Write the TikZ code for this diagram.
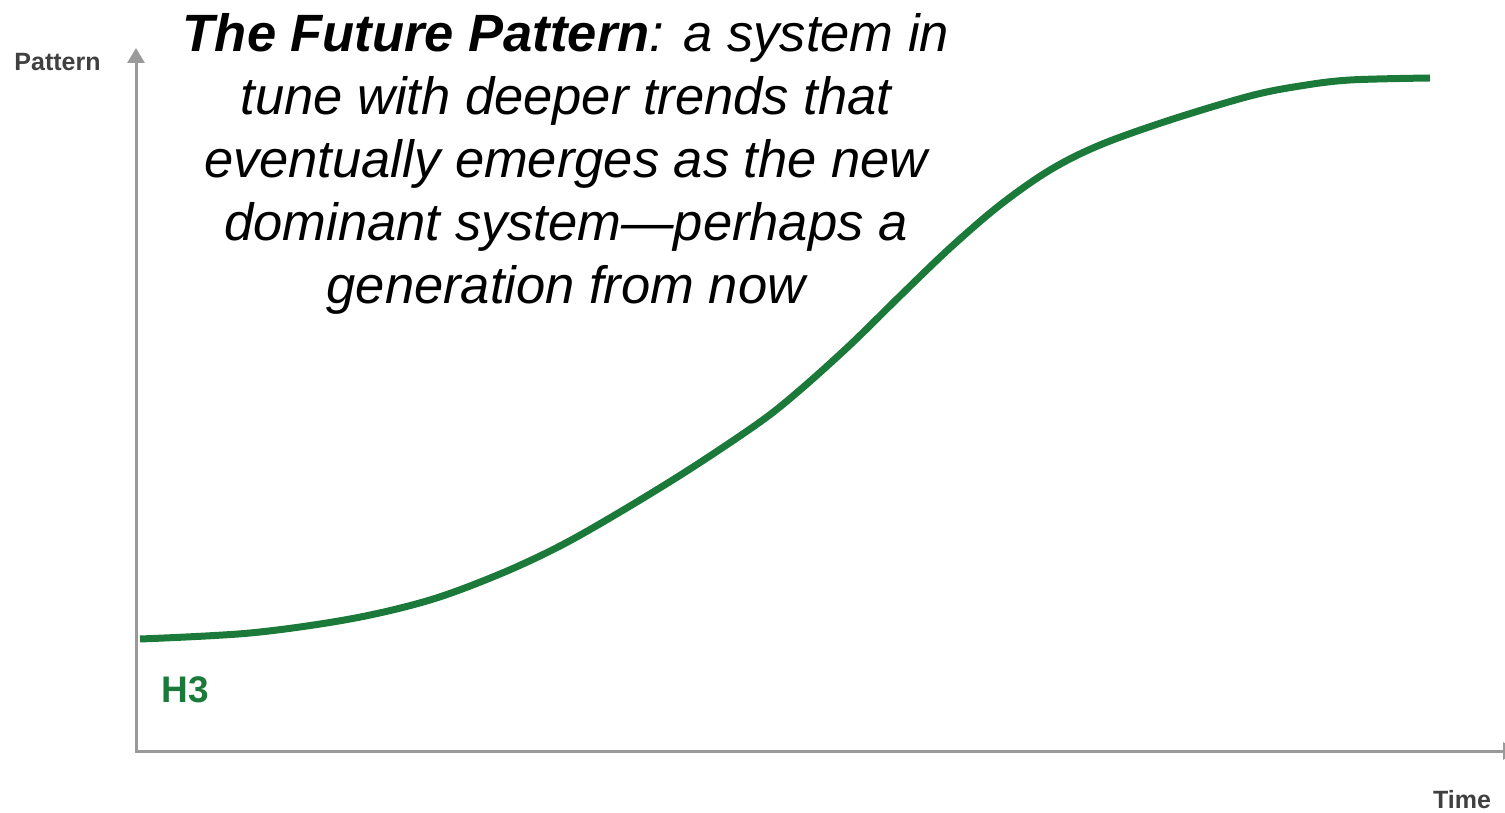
\documentclass[tikz,border=0pt]{standalone}
\usepackage{fontspec}
\setmainfont{Liberation Sans}
\usetikzlibrary{arrows.meta}
\definecolor{curvegreen}{HTML}{1B7A3A}
\definecolor{axisgray}{HTML}{9A9A9A}
\definecolor{labelgray}{HTML}{404040}
\begin{document}
\begin{tikzpicture}[x=1pt,y=1pt,
  axisline/.style={draw=axisgray,line width=3pt,-{Triangle[width=17pt,length=15pt]}},
  axislabel/.style={text=labelgray,font=\bfseries\fontsize{25}{30}\selectfont,anchor=base,inner sep=0pt},
  titletext/.style={font=\itshape\fontsize{52.5}{63}\selectfont,align=center,anchor=north,inner sep=0pt},
  scurve/.style={draw=curvegreen,line width=7pt}]
\useasboundingbox (0,0) rectangle (1505,812);
\coordinate (origin) at (136,61);
\coordinate (ytip) at (136,764);
\coordinate (xtip) at (1518,61);
\draw[axisline] (origin) -- (ytip);
\draw[axisline] ([xshift=-1.5pt]origin) -- (xtip);
\node[axislabel] (ylab) at (57.5,741) {Pattern};
\node[axislabel] (xlab) at (1462,4) {Time};
\node[axislabel,text=curvegreen,font=\bfseries\fontsize{37}{44}\selectfont] (h3) at (185,110) {H3};
\node[titletext] (title) at (566,799) {\textbf{The Future Pattern}: a system in\\tune with deeper trends that\\eventually emerges as the new\\dominant system---perhaps a\\generation from now};
\draw[scurve] plot[smooth,tension=0.55] coordinates {
 (140,173) (250,179) (350,193) (430,212) (500,238) (560,266) (620,300)
 (690,343) (760,390) (800,422) (850,467) (900,516) (950,564) (1000,607)
 (1050,642) (1100,667) (1170,692) (1250,716) (1300,726) (1350,732) (1430,734)};
\end{tikzpicture}
\end{document}
